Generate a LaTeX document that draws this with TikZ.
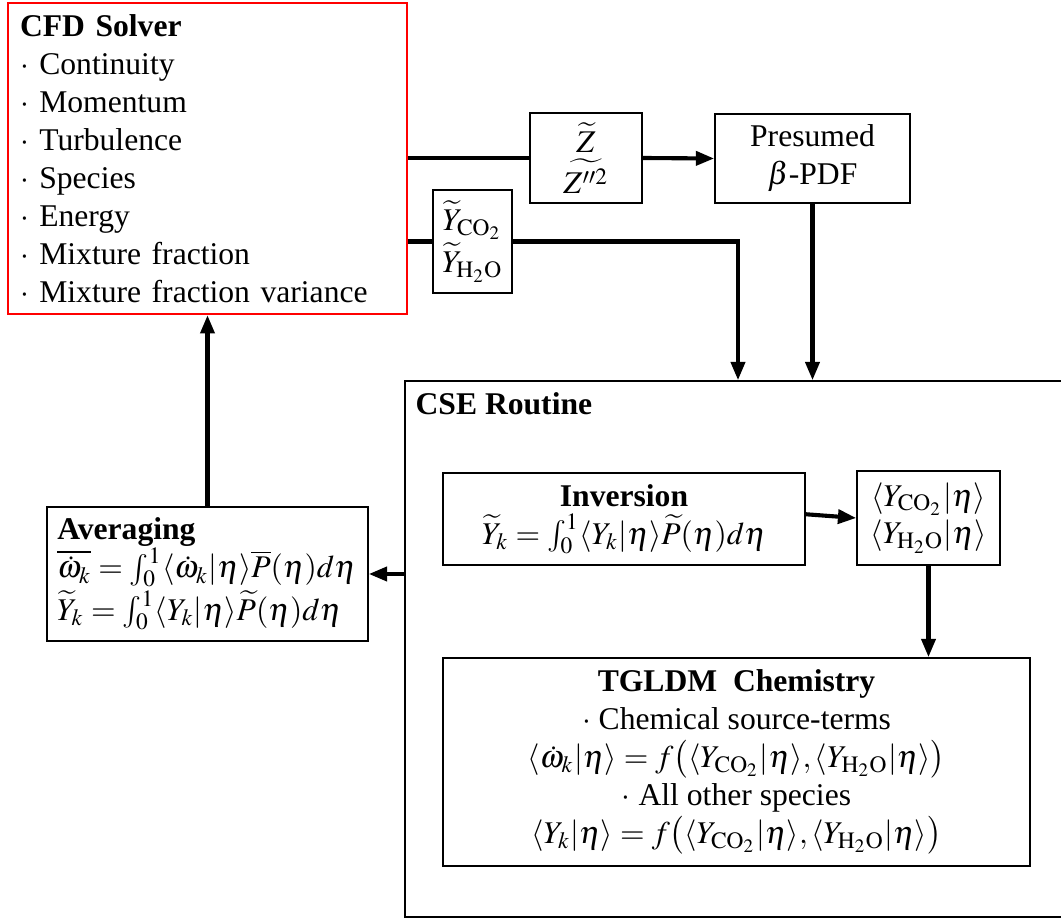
\documentclass[tikz,border=0pt]{standalone}
\usepackage{mathptmx}
\usepackage{fontspec}
\setmainfont{Liberation Serif}
\usetikzlibrary{arrows.meta,calc}
\begin{document}
\begin{tikzpicture}[x=0.3163pt,y=-0.3163pt,
  box/.style={draw, line width=0.5pt, inner sep=0pt, align=center},
  conn/.style={line width=1.3pt},
  arr/.style={conn,-{Triangle[length=5.8pt,width=4.4pt]}}]
\useasboundingbox (0,0) rectangle (1061,919);
% boxes
\node[box, draw=red, line width=0.7pt, minimum width=126.2pt, minimum height=98.4pt,
      text width=118.6pt, align=left] (cfd) at (207.5,158.5)
  {\textbf{CFD Solver}\\
   $\cdot$ Continuity\\
   $\cdot$ Momentum\\
   $\cdot$ Turbulence\\
   $\cdot$ Species\\
   $\cdot$ Energy\\
   $\cdot$ Mixture fraction\\
   $\cdot$ Mixture fraction variance};
\node[box, minimum width=35.4pt, minimum height=28.5pt] (zb) at (586,158)
  {$\widetilde{Z}$\\[1pt] $\widetilde{Z''^2}$};
\node[box, minimum width=61.7pt, minimum height=28.2pt] (pres) at (812.5,158.5)
  {Presumed\\ $\beta$-PDF};
\node[box, minimum width=25pt, minimum height=32.6pt] (yb) at (472.5,241.5)
  {$\widetilde{Y}_{\mathrm{CO_2}}$\\ $\widetilde{Y}_{\mathrm{H_2O}}$};
\node[box, minimum width=208.1pt, minimum height=169.5pt] (cse) at (734,649) {};
\node[anchor=base west, inner sep=0pt, font=\bfseries] (cselbl) at (415,415) {CSE Routine};
\node[box, minimum width=114.5pt, minimum height=29.1pt] (inv) at (624,519)
  {\textbf{Inversion}\\ $\widetilde{Y}_k=\int_0^1\langle Y_k|\eta\rangle\widetilde{P}(\eta)d\eta$};
\node[box, minimum width=45.2pt, minimum height=29.7pt] (cond) at (928.5,518)
  {$\langle Y_{\mathrm{CO_2}}|\eta\rangle$\\ $\langle Y_{\mathrm{H_2O}}|\eta\rangle$};
\node[box, minimum width=185.7pt, minimum height=65.8pt] (tg) at (736.5,762)
  {\textbf{TGLDM\ \ Chemistry}\\
   $\cdot$ Chemical source-terms\\
   $\langle\dot\omega_k|\eta\rangle=f\bigl(\langle Y_{\mathrm{CO_2}}|\eta\rangle,\langle Y_{\mathrm{H_2O}}|\eta\rangle\bigr)$\\
   $\cdot$ All other species\\
   $\langle Y_k|\eta\rangle=f\bigl(\langle Y_{\mathrm{CO_2}}|\eta\rangle,\langle Y_{\mathrm{H_2O}}|\eta\rangle\bigr)$};
\node[box, minimum width=101.5pt, minimum height=42.4pt, text width=95pt, align=left] (avg) at (207.5,574)
  {\textbf{Averaging}\\
   $\overline{\dot\omega_k}=\int_0^1\langle\dot\omega_k|\eta\rangle\overline{P}(\eta)d\eta$\\
   $\widetilde{Y}_k=\int_0^1\langle Y_k|\eta\rangle\widetilde{P}(\eta)d\eta$};
% connectors
\coordinate (bend) at (738,241.5);
\draw[conn] (cfd.east |- zb.west) -- (zb.west);
\draw[arr] (zb.east) -- (pres.west);
\draw[conn] (cfd.east |- yb.west) -- (yb.west);
\draw[arr] (yb.east) -- (bend) -- (bend |- cse.north);
\draw[arr] (pres.south) -- (pres.south |- cse.north);
\draw[arr] ([yshift=1.5pt]inv.east) -- (cond.west);
\draw[arr] (cond.south) -- (cond.south |- tg.north);
\draw[arr] (cse.west |- avg.east) -- (avg.east);
\draw[arr] (avg.north) -- (cfd.south);
\end{tikzpicture}
\end{document}
